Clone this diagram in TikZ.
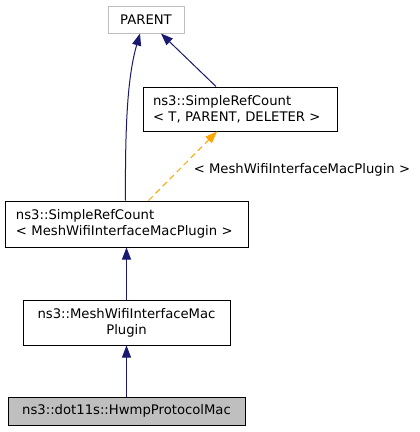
\documentclass[tikz,border=0pt]{standalone}
\usepackage{fontspec}
\setmainfont{DejaVu Sans}
\usetikzlibrary{arrows.meta}
\definecolor{edgeblue}{HTML}{191970}
\definecolor{edgeorange}{HTML}{FFA500}
\definecolor{boxgray}{HTML}{BFBFBF}
\begin{document}
\begin{tikzpicture}[x=1pt,y=-1pt,
  every node/.style={font=\fontsize{13.2}{16}\selectfont, inner sep=0pt, line width=1pt},
  cls/.style={draw=black, rectangle, minimum height=#1},
  inh/.style={draw=edgeblue, line width=1pt, -{Triangle[length=12pt,width=9pt]}},
  tmpl/.style={draw=edgeorange, line width=1pt, dash pattern=on 6pt off 4pt, -{Triangle[length=12pt,width=9pt]}}]
\useasboundingbox (0,0) rectangle (420,432);
\node[draw=boxgray, minimum width=76pt, minimum height=27pt] (parent) at (146,19.5) {PARENT};
\node[cls=44pt, minimum width=194pt, text width=174pt, align=left] (srct) at (240,109) {ns3::SimpleRefCount\\\textless{} T, PARENT, DELETER \textgreater};
\node[cls=46pt, minimum width=243pt, text width=221pt, align=left] (srcm) at (126.5,224) {ns3::SimpleRefCount\\\textless{} MeshWifiInterfaceMacPlugin \textgreater};
\node[cls=45pt, minimum width=207pt, align=center] (plugin) at (126.5,322.5) {ns3::MeshWifiInterfaceMac\\Plugin};
\node[cls=28pt, fill=boxgray, minimum width=237pt] (hwmp) at (126.5,411) {ns3::dot11s::HwmpProtocolMac};
\draw[inh] ([xshift=-1pt]srcm.north) .. controls (125,120) and (128,75) .. ([xshift=-6pt]parent.south);
\draw[inh] ([xshift=-24pt]srct.north) -- ([xshift=15pt]parent.south);
\draw[tmpl] ([xshift=22pt]srcm.north) -- ([xshift=-23pt]srct.south) node[pos=0.45, anchor=west, xshift=14pt] (lbl) {\textless{} MeshWifiInterfaceMacPlugin \textgreater};
\draw[inh] (plugin.north) -- (srcm.south);
\draw[inh] (hwmp.north) -- (plugin.south);
\end{tikzpicture}
\end{document}
